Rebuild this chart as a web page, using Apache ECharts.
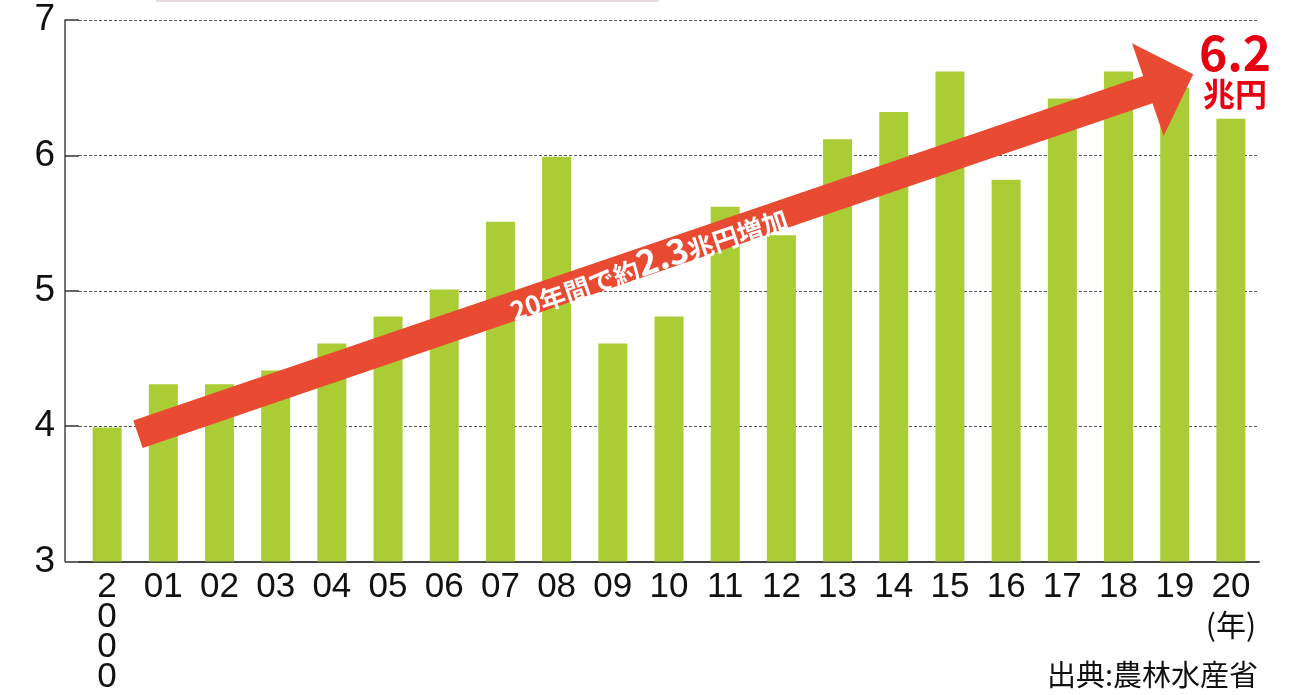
<!DOCTYPE html>
<html><head><meta charset="utf-8">
<script src="https://cdn.jsdelivr.net/npm/echarts@6/dist/echarts.min.js"></script>
<style>html,body{margin:0;padding:0;background:#fff}#c{width:1294px;height:695px}</style>
</head><body><div id="c"></div>
<script>
const categories = ['2000','01','02','03','04','05','06','07','08','09','10','11','12','13','14','15','16','17','18','19','20'];
const values = [3.99, 4.31, 4.31, 4.41, 4.61, 4.81, 5.01, 5.51, 5.99, 4.61, 4.81, 5.62, 5.41, 6.12, 6.32, 6.62, 5.82, 6.42, 6.62, 6.5, 6.27];
const yMin = 3, yMax = 7, yStep = 1;
const arrowFrom = [0.55, 3.94];
const arrowTo = [19.33, 6.6];
const arrowText = ['20年間で約', '2.3', '兆円増加'];
const endLabel = ['6.2', '兆円'];
const unitLabel = '(年)';
const sourceText = '出典:農林水産省';

const chart = echarts.init(document.getElementById('c'));
const CJK = '"Noto Sans CJK JP", sans-serif';

chart.setOption({
  animation: false,
  backgroundColor: '#fff',
  grid: { left: 79, right: 35, top: 20, bottom: 131, containLabel: false },
  xAxis: [{
    type: 'category',
    data: categories,
    axisLine: { lineStyle: { color: '#444', width: 2 } },
    axisTick: { show: false },
    axisLabel: {
      interval: 0,
      margin: 11,
      color: '#111',
      fontFamily: '"Liberation Sans", Arial, sans-serif',
      fontSize: 35,
      lineHeight: 30,
      formatter: function (v) {
        if (v === categories[0]) return v.split('').join('\n');
        if (v === categories[categories.length - 1]) return v + '\n{u|' + unitLabel + '}';
        return v;
      },
      rich: {
        u: { fontFamily: CJK, fontSize: 30, lineHeight: 44, color: '#111' }
      }
    }
  }, {
    type: 'value', min: -0.5, max: categories.length - 0.5, show: false
  }],
  yAxis: {
    type: 'value',
    min: yMin, max: yMax, interval: yStep,
    offset: 14,
    axisLine: { show: true, onZero: false, lineStyle: { color: '#444', width: 1.5 } },
    axisTick: { show: true, inside: true, length: 14, lineStyle: { color: '#333', width: 1.5 } },
    axisLabel: {
      margin: 10, color: '#111', fontSize: 37,
      fontFamily: '"Liberation Sans", Arial, sans-serif'
    },
    splitLine: { show: true, lineStyle: { color: '#555', width: 1, type: [3, 2] } }
  },
  series: [{
    type: 'bar',
    data: values,
    barWidth: 29,
    itemStyle: { color: '#AACD35' },
    z: 2
  }, {
    type: 'custom',
    xAxisIndex: 1,
    yAxisIndex: 0,
    z: 10,
    data: [[arrowFrom[0], arrowFrom[1], arrowTo[0], arrowTo[1]]],
    renderItem: function (params, api) {
      const p0 = api.coord([api.value(0), api.value(1)]);
      const p1 = api.coord([api.value(2), api.value(3)]);
      const dx = p1[0] - p0[0], dy = p1[1] - p0[1];
      const len = Math.hypot(dx, dy);
      const ux = dx / len, uy = dy / len;
      const nx = -uy, ny = ux;
      const sh = 14.5, hh = 49, hl = 48;
      const bx = p1[0] - ux * hl, by = p1[1] - uy * hl;
      const pts = [
        [p0[0] + nx * sh, p0[1] + ny * sh],
        [bx + nx * sh, by + ny * sh],
        [bx + nx * hh, by + ny * hh],
        [p1[0], p1[1]],
        [bx - nx * hh, by - ny * hh],
        [bx - nx * sh, by - ny * sh],
        [p0[0] - nx * sh, p0[1] - ny * sh]
      ];
      const t = 0.483;
      const tx = p0[0] + dx * t, ty = p0[1] + dy * t;
      return {
        type: 'group',
        children: [
          { type: 'polygon', shape: { points: pts }, style: { fill: '#E84A32' } },
          {
            type: 'text', x: tx, y: ty + 1, rotation: Math.atan2(-dy, dx),
            style: {
              text: '{a|' + arrowText[0] + '}{b|' + arrowText[1] + '}{a|' + arrowText[2] + '}',
              align: 'center', verticalAlign: 'middle',
              fill: '#fff',
              font: 'bold 26px ' + CJK,
              rich: {
                a: { font: 'bold 26px ' + CJK, fill: '#fff', lineHeight: 34, verticalAlign: 'bottom' },
                b: { font: 'bold 35px ' + CJK, fill: '#fff', lineHeight: 34, verticalAlign: 'bottom' }
              }
            }
          }
        ]
      };
    }
  }],
  graphic: [
    { type: 'rect', shape: { x: 156, y: 0, width: 503, height: 2 }, style: { fill: '#e8dcdc' } },
    { type: 'text', x: 1235, y: 53, style: { text: endLabel[0], fill: '#E60012', font: 'bold 48px ' + CJK, align: 'center', verticalAlign: 'middle' } },
    { type: 'text', x: 1235, y: 94, style: { text: endLabel[1], fill: '#E60012', font: 'bold 32px ' + CJK, align: 'center', verticalAlign: 'middle' } },
    { type: 'text', x: 1258, y: 675, style: { text: sourceText, fill: '#111', font: '29px ' + CJK, align: 'right', verticalAlign: 'middle' } }
  ]
});
</script>
</body></html>
